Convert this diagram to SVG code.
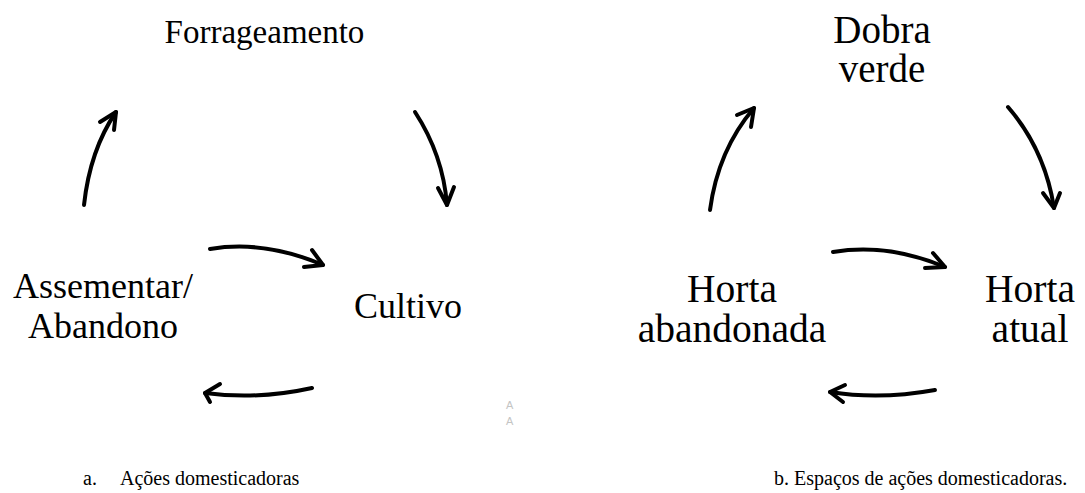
<svg xmlns="http://www.w3.org/2000/svg" width="1085" height="493" viewBox="0 0 1085 493">
<style>
.t{font-family:'Liberation Serif','DejaVu Serif',serif;fill:#000;text-anchor:middle}
.s{text-anchor:start}
.c{fill:none;stroke:#000;stroke-width:4;stroke-linecap:round;stroke-linejoin:round}
.f{font-family:'Liberation Sans',Arial,sans-serif;fill:#c4c4c4;font-size:11px}
</style>
<rect width="1085" height="493" fill="#fff"/>
<g id="n-forrageamento"><text class="t" x="264.5" y="43" font-size="33">Forrageamento</text></g>
<g id="n-assementar"><text class="t" x="103" y="298" font-size="36">Assementar/</text><text class="t" x="103" y="338" font-size="36">Abandono</text></g>
<g id="n-cultivo"><text class="t" x="408" y="318" font-size="36">Cultivo</text></g>
<g id="n-dobra"><text class="t" x="882" y="43" font-size="39">Dobra</text><text class="t" x="882" y="82" font-size="39">verde</text></g>
<g id="n-horta-abandonada"><text class="t" x="732" y="302" font-size="39.5">Horta</text><text class="t" x="732" y="342" font-size="39.5">abandonada</text></g>
<g id="n-horta-atual"><text class="t" x="1030" y="302" font-size="39.5">Horta</text><text class="t" x="1030" y="342" font-size="39.5">atual</text></g>
<g id="connectors">
<path class="c" d="M84,205 Q90,150 116,112"/><path class="c" d="M100,122 L116,112 L114,130"/>
<path class="c" d="M415,112 Q443,155 447,205"/><path class="c" d="M438,188 L447,205 L454,187"/>
<path class="c" d="M210,249 Q265,240 323,265"/><path class="c" d="M312,250 L323,265 L304,267"/>
<path class="c" d="M312,388 Q258,400 205,393"/><path class="c" d="M220,384 L205,393 L210,402"/>
<path class="c" d="M710,210 Q718,150 754,108"/><path class="c" d="M737,115 L754,108 L751,127"/>
<path class="c" d="M1008,107 Q1045,150 1054,208"/><path class="c" d="M1043,193 L1054,208 L1060,193"/>
<path class="c" d="M833,252 Q888,243 945,267"/><path class="c" d="M933,253 L945,267 L925,268"/>
<path class="c" d="M935,390 Q880,400 830,392"/><path class="c" d="M845,385 L830,392 L843,402"/>
</g>
<g id="captions">
<text class="t s" x="83" y="485" font-size="20">a.</text>
<text class="t s" x="120" y="485" font-size="20">Ações domesticadoras</text>
<text class="t s" x="774" y="485" font-size="20">b. Espaços de ações domesticadoras.</text>
</g>
<text class="f" x="506" y="409">A</text>
<text class="f" x="506" y="425">A</text>
</svg>
